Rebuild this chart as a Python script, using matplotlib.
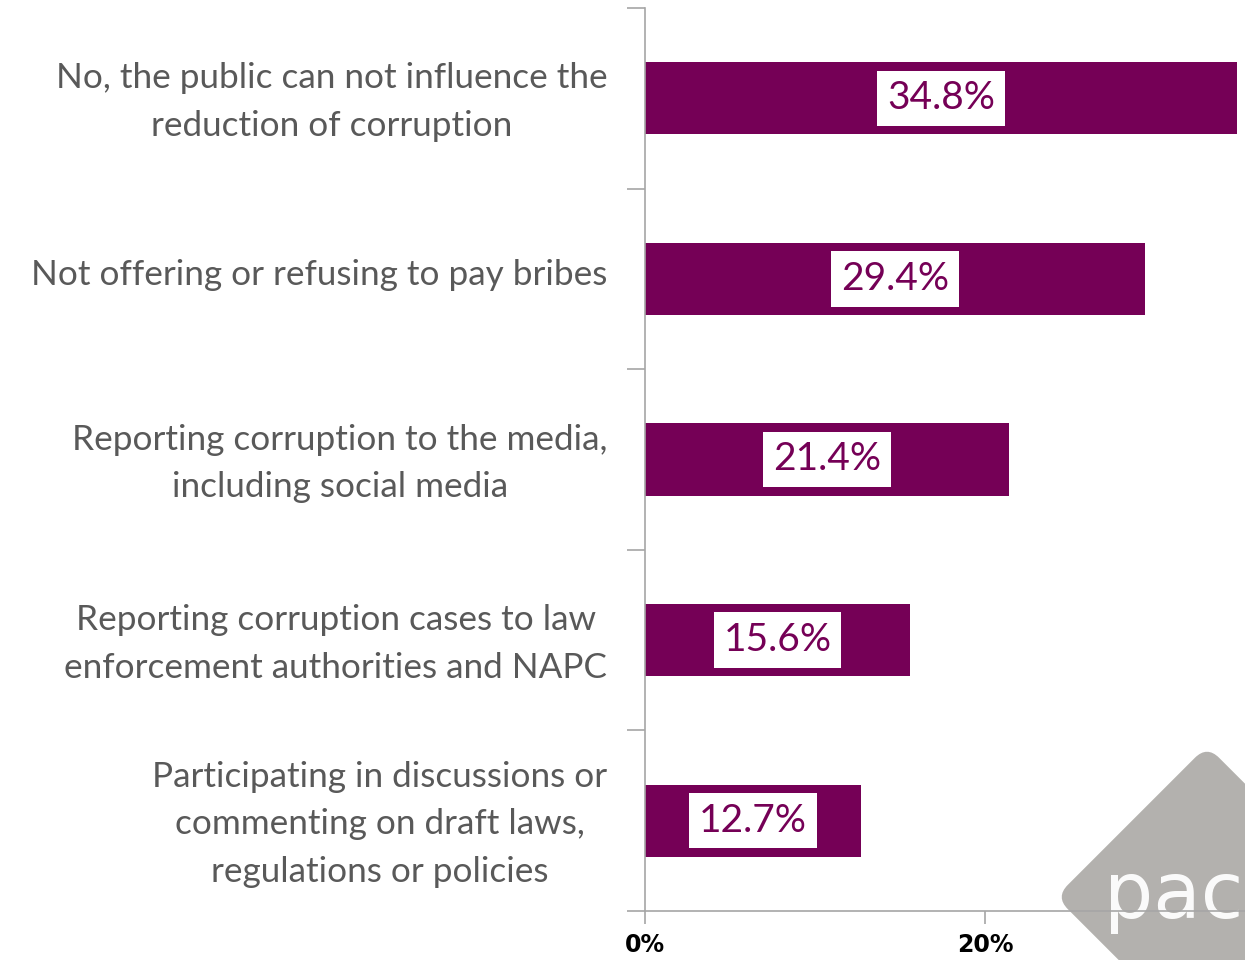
import matplotlib.pyplot as plt
from matplotlib.patches import FancyBboxPatch
import matplotlib.transforms as mtransforms
from matplotlib.ticker import FuncFormatter

categories = [
    'No, the public can not influence the\nreduction of corruption',
    'Not offering or refusing to pay bribes',
    'Reporting corruption to the media,\nincluding social media',
    'Reporting corruption cases to law\nenforcement authorities and NAPC',
    'Participating in discussions or\ncommenting on draft laws,\nregulations or policies',
]
values = [34.8, 29.4, 21.4, 15.6, 12.7]
xticks = [0, 20]

bar_color = '#750056'
label_color = '#595959'
axis_color = '#a6a6a6'

plt.rcParams['font.family'] = ['Lato', 'DejaVu Sans']

fig = plt.figure(figsize=(12.45, 9.6), dpi=100)
ax = fig.add_axes([645 / 1245, 1 - 911 / 960, 600 / 1245, 903 / 960])
ax.patch.set_alpha(0)

# pact watermark in the corner (display coords, y from bottom)
logo = FancyBboxPatch((-0.5, -0.5), 1, 1, boxstyle='round,pad=0,rounding_size=0.08',
                      facecolor='#b3b1ae', edgecolor='none', zorder=-1,
                      transform=mtransforms.Affine2D().rotate_deg(45).scale(214)
                      .translate(1207, 960 - 897) + mtransforms.IdentityTransform())
fig.patches.append(logo)
fig.text(1104 / 1245, 1 - 918 / 960, 'pact', color='white', fontsize=56,
         family='DejaVu Sans', va='baseline', ha='left', zorder=-1, alpha=0.95)

pos = list(range(len(categories)))
ax.barh(pos, values, height=0.4, color=bar_color, zorder=2)

for p, v in zip(pos, values):
    ax.text(v / 2, p, f'{v}%', ha='center', va='center', fontsize=28, color=bar_color,
            zorder=3,
            bbox=dict(facecolor='white', edgecolor='none', boxstyle='square,pad=0.25'))

ax.set_xlim(0, 600 / 17)
ax.set_ylim(len(categories) - 0.5, -0.5)

# category labels at bar centres, tick marks at category boundaries
ax.set_yticks(pos)
ax.set_yticklabels(categories, fontsize=25.3, color=label_color, multialignment='center',
                   linespacing=1.6)
ax.tick_params(axis='y', which='major', length=0, pad=27)
shift = mtransforms.ScaledTranslation(0, 7 / 100, fig.dpi_scale_trans)
for lbl in ax.get_yticklabels():
    lbl.set_transform(lbl.get_transform() + shift)
ax.set_yticks([i - 0.5 for i in range(len(categories) + 1)], minor=True)
ax.tick_params(axis='y', which='minor', length=13, color=axis_color, width=1.2)

ax.set_xticks(xticks)
ax.xaxis.set_major_formatter(FuncFormatter(lambda x, _: f'{x:.0f}%'))
ax.tick_params(axis='x', length=9, color=axis_color, width=1.2, labelsize=17, pad=7)
for lbl in ax.get_xticklabels():
    lbl.set_fontweight('bold')
    lbl.set_family('DejaVu Sans')

for s in ['top', 'right']:
    ax.spines[s].set_visible(False)
for s in ['left', 'bottom']:
    ax.spines[s].set_color(axis_color)
    ax.spines[s].set_linewidth(1.2)

plt.savefig('out.png', dpi=100)
